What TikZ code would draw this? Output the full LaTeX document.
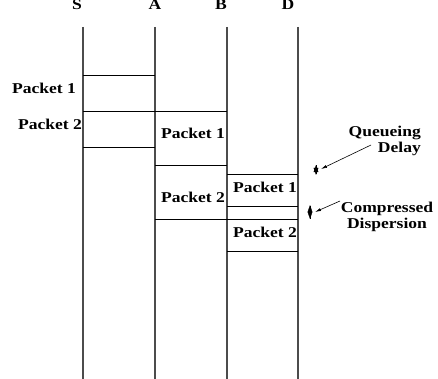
\documentclass[tikz,border=0pt]{standalone}
\usepackage{fontspec}
\setmainfont[FakeStretch=1.17]{Liberation Serif}
\usetikzlibrary{arrows.meta}
\begin{document}
\begin{tikzpicture}[x=1pt,y=-1pt,
  lbl/.style={font=\fontsize{15}{15.5}\selectfont\bfseries, inner sep=0pt},
  timeline/.style={line width=1.3pt, draw=black!70},
  pkt/.style={line width=0.8pt},
  tip/.style={fill=black, draw=black, line width=0.3pt},
  pointer/.style={line width=0.6pt, -{Latex[length=6pt,width=3pt]}}]
\useasboundingbox (0,0) rectangle (438,379);
% column labels
\node[lbl] (S) at (77,4.5) {S};
\node[lbl] (A) at (155,4.5) {A};
\node[lbl] (B) at (221,4.5) {B};
\node[lbl] (D) at (288,4.5) {D};
% timelines
\foreach \n/\x in {s/83,a/155,b/227,d/298}{
  \coordinate (\n top) at (\x,27);
  \coordinate (\n bot) at (\x,379);
  \draw[timeline] (\n top) -- (\n bot);
}
% S -> A
\draw[pkt] (83,75) -- (155,75);
\draw[pkt] (83,111) -- (227,111);
\draw[pkt] (83,147) -- (155,147);
% A -> B
\draw[pkt] (155,165) -- (227,165);
\draw[pkt] (155,219) -- (298,219);
% B -> D
\draw[pkt] (227,174) -- (298,174);
\draw[pkt] (227,206) -- (298,206);
\draw[pkt] (227,251) -- (298,251);
% packet labels
\node[lbl] (p1s) at (44,88) {Packet 1};
\node[lbl] (p2s) at (50,124) {Packet 2};
\node[lbl] (p1a) at (193,133) {Packet 1};
\node[lbl] (p2a) at (193,197) {Packet 2};
\node[lbl] (p1b) at (265,187) {Packet 1};
\node[lbl] (p2b) at (265,232) {Packet 2};
% markers (double-headed, heads overlapping)
\coordinate (q1) at (316,165.5);
\coordinate (q2) at (316,174.5);
\draw[line width=0.6pt] (q1) -- (q2);
\fill[tip] (q1) -- ++(-2.2,6.5) -- ++(4.4,0) -- cycle;
\fill[tip] (q2) -- ++(-2.2,-6.5) -- ++(4.4,0) -- cycle;
\coordinate (c1) at (310,205.5);
\coordinate (c2) at (310,218.5);
\draw[line width=0.6pt] (c1) -- (c2);
\fill[tip] (c1) -- ++(-2.2,6.5) -- ++(4.4,0) -- cycle;
\fill[tip] (c2) -- ++(-2.2,-6.5) -- ++(4.4,0) -- cycle;
% annotations
\node[lbl, align=right, anchor=east] (qd) at (421,141) {Queueing\\Delay};
\node[lbl, align=center] (cd) at (387,217) {Compressed\\Dispersion};
\coordinate (qa) at (371,145);
\coordinate (qe) at (321,169);
\draw[pointer] (qa) -- (qe);
\coordinate (ca) at (340,201);
\coordinate (ce) at (315,212);
\draw[pointer] (ca) -- (ce);
\end{tikzpicture}
\end{document}
